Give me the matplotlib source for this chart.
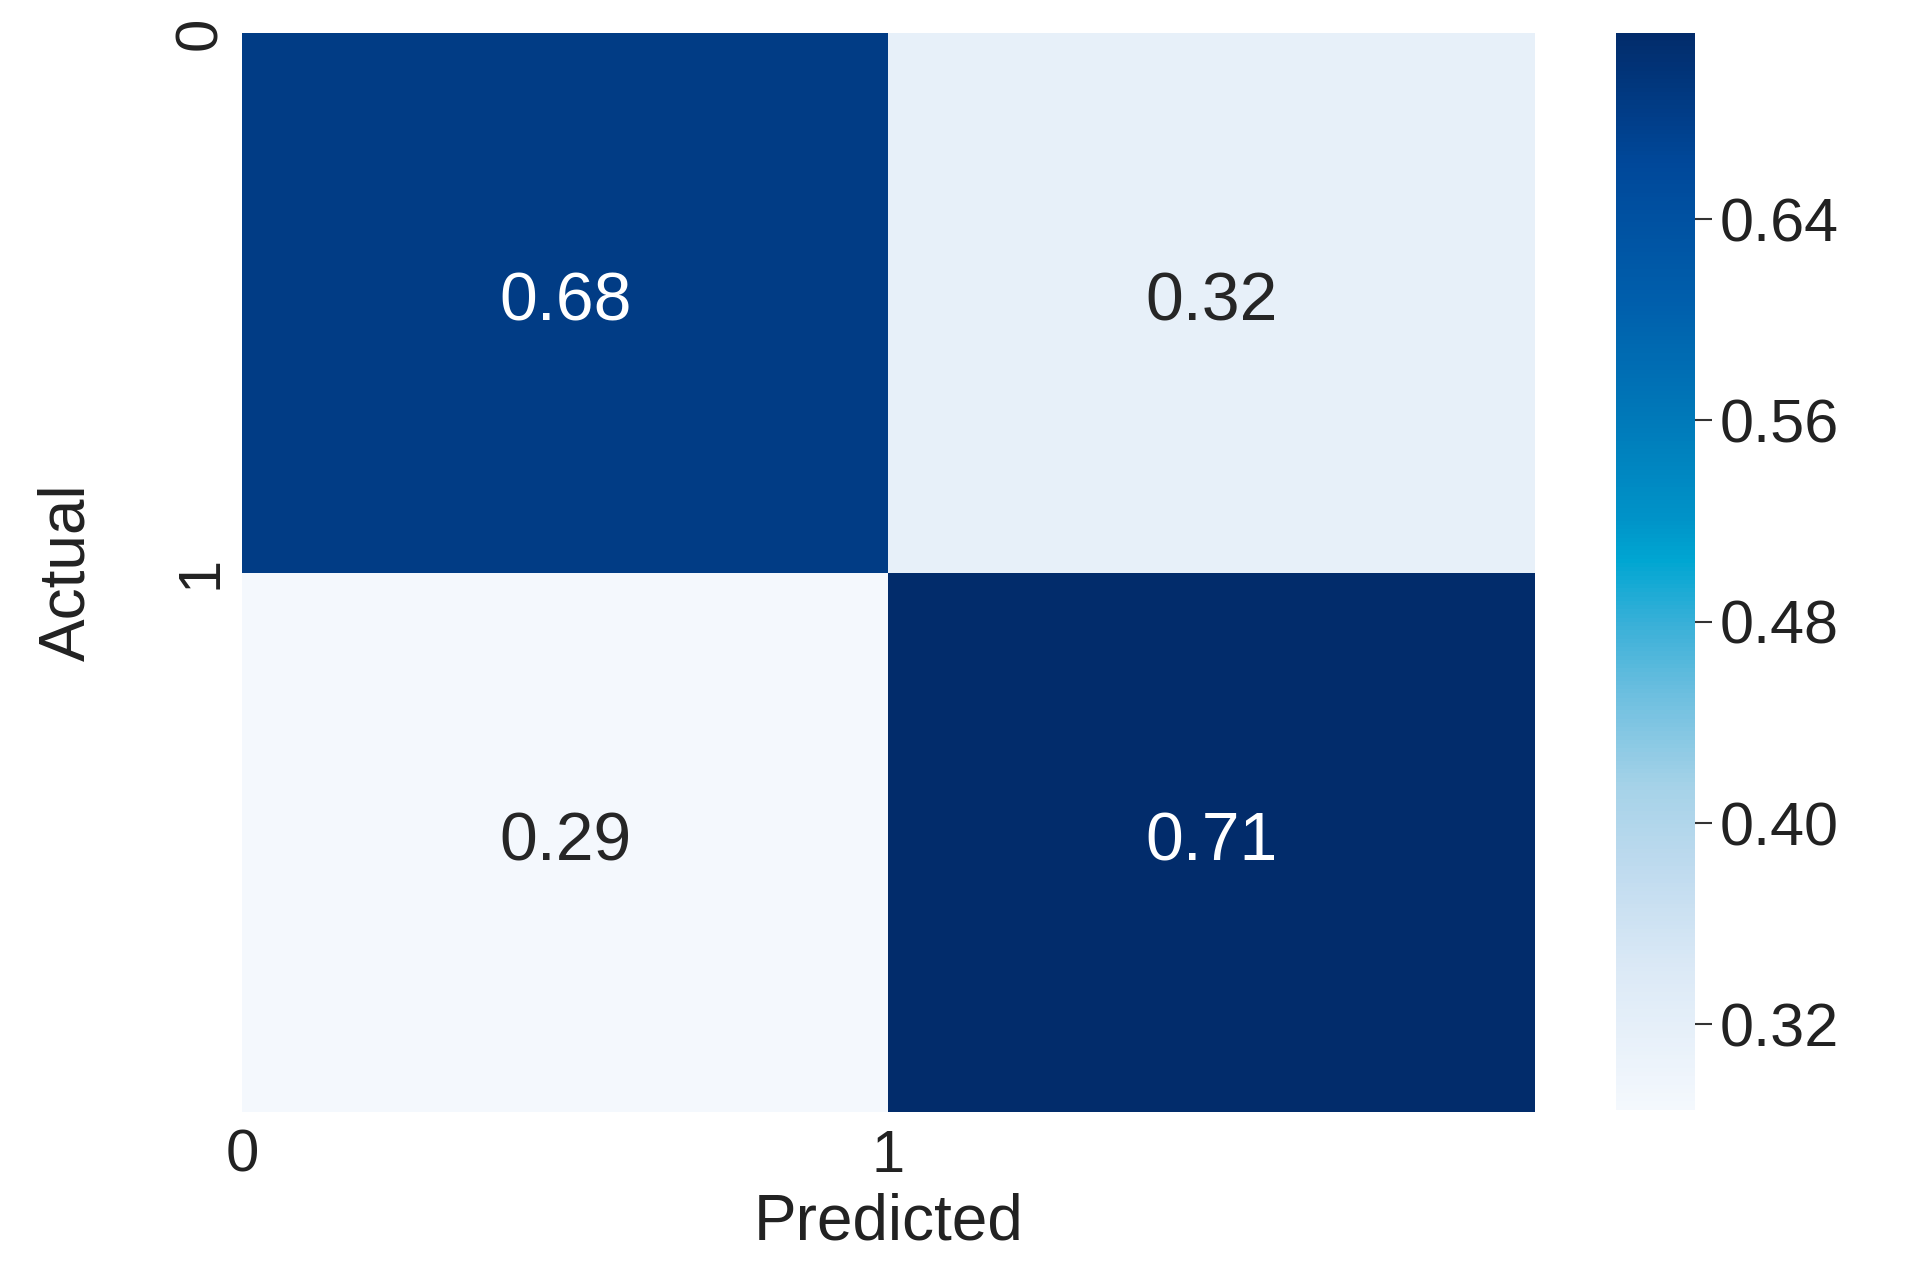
import numpy as np
import matplotlib
matplotlib.use("Agg")
import matplotlib.pyplot as plt
from matplotlib.colors import Normalize, LinearSegmentedColormap
from matplotlib.cm import ScalarMappable
import seaborn as sns

# Data
row_labels = ["0", "1"]
col_labels = ["0", "1"]
cm_values = [[0.684, 0.316],
             [0.286, 0.714]]
cbar_ticks = [0.32, 0.40, 0.48, 0.56, 0.64]

plt.rcParams['font.family'] = ['Liberation Sans', 'DejaVu Sans']

fig = plt.figure(figsize=(19.23, 12.74), dpi=100)
ax = fig.add_axes([0.1258, 0.1272, 0.6724, 0.8468])
cax = fig.add_axes([0.8404, 0.1288, 0.0411, 0.8453])

data = np.array(cm_values)
vmin, vmax = data.min(), data.max()

bar_colors = ["#f4f8fd", "#dbe9f6", "#c0dbef", "#a5d2e8", "#70c0e0",
              "#3ab0d8", "#00a6d2", "#0093c8", "#0077b8", "#005fac",
              "#00489a", "#022c6b"]
bar_pos = [0.0, 0.13, 0.22, 0.30, 0.38, 0.45, 0.51, 0.55, 0.65, 0.75, 0.88, 1.0]
cmap = LinearSegmentedColormap.from_list("blues_cyan", list(zip(bar_pos, bar_colors)))
norm = Normalize(vmin=vmin, vmax=vmax)

sns.heatmap(data, ax=ax, cmap=cmap, norm=norm, cbar=False,
            annot=True, fmt=".2f", annot_kws={"fontsize": 49})

ax.set_xticks([0, 1])
ax.set_xticklabels(col_labels, fontsize=43, color="#222222")
ax.set_yticks([0, 1])
ax.set_yticklabels(row_labels, fontsize=43, rotation=90, va="center", color="#222222")
ax.tick_params(axis="both", length=0)
ax.tick_params(axis="x", pad=12)
ax.tick_params(axis="y", pad=10)

ax.set_xlabel("Predicted", fontsize=46, color="#222222")
ax.xaxis.set_label_coords(0.5, -0.075)
ax.set_ylabel("Actual", fontsize=46, color="#222222")
ax.yaxis.set_label_coords(-0.112, 0.5)

# Colorbar
sm = ScalarMappable(norm=norm, cmap=cmap)
cb = fig.colorbar(sm, cax=cax, ticks=cbar_ticks)
cb.outline.set_visible(False)
cb.ax.set_yticklabels([f"{t:.2f}" for t in cbar_ticks], fontsize=44, color="#222222")
cb.ax.tick_params(length=12, width=1.5, color="#333333", pad=6)

fig.savefig("out.png", dpi=100, facecolor="white")
